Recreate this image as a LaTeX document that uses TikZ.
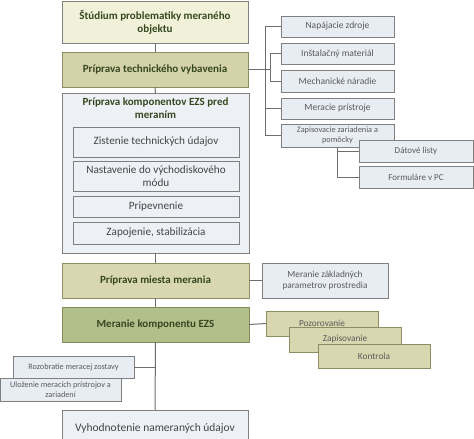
\documentclass[tikz,border=0pt]{standalone}
\usepackage{fontspec}
\setmainfont{Carlito}
\definecolor{cream}{HTML}{F1F1DA}
\definecolor{khaki}{HTML}{D4D2A8}
\definecolor{khakib}{HTML}{D8D7B0}
\definecolor{olive}{HTML}{B3BF8B}
\definecolor{lblue}{HTML}{EDF1F6}
\definecolor{rblue}{HTML}{E8EDF3}
\definecolor{bgray}{HTML}{808080}
\definecolor{bolive}{HTML}{8E8C62}
\definecolor{bgreen}{HTML}{7F8C5A}
\definecolor{tgreen}{HTML}{34471F}
\definecolor{tgray}{HTML}{454545}
\definecolor{tlight}{HTML}{5A5A5A}
\definecolor{lnk}{HTML}{6E6E6E}
\tikzset{
  base/.style={draw, line width=0.9pt, inner sep=1pt, align=center, outer sep=0pt},
  mainbox/.style={base, draw=bgray, font=\fontsize{11}{13}\selectfont\bfseries, text=tgreen},
  bluebox/.style={base, draw=bgray, fill=lblue, text=tgray, font=\fontsize{11.2}{13}\selectfont},
  sidebox/.style={base, draw=bgray, fill=rblue, text=tlight, font=\fontsize{9.5}{11}\selectfont},
  leftbox/.style={base, draw=bgray, fill=rblue, text=tlight, font=\fontsize{8.2}{9.5}\selectfont},
  khbox/.style={base, draw=bolive, fill=khakib, text=tlight, font=\fontsize{9.3}{11}\selectfont},
  link/.style={draw=lnk, line width=1pt}
}
\begin{document}
\begin{tikzpicture}[x=1pt,y=-1pt]
\useasboundingbox (0,0) rectangle (474,439);
\clip (0,0) rectangle (474,439);
\fill[white] (0,0) rectangle (474,439);
% main column
\node[mainbox, fill=cream, minimum width=186, minimum height=42] (b1) at (155,22) {Štúdium problematiky meraného\\objektu};
\node[mainbox, fill=khaki, draw=bolive, minimum width=186, minimum height=35] (b2) at (155,69.5) {Príprava technického vybavenia};
\node[bluebox, minimum width=187, minimum height=160] (b3) at (155.5,173) {};
\node[mainbox, draw=none, fill=none] (b3t) at (155.5,108.5) {Príprava komponentov EZS pred\\meraním};
\node[bluebox, minimum width=166, minimum height=30] (i1) at (156,142) {Zistenie technických údajov};
\node[bluebox, minimum width=166, minimum height=30, font=\fontsize{11.2}{12.5}\selectfont] (i2) at (156,176) {Nastavenie do východiskového\\módu};
\node[bluebox, minimum width=166, minimum height=21] (i3) at (156,206.5) {Pripevnenie};
\node[bluebox, minimum width=166, minimum height=22] (i4) at (156,233) {Zapojenie, stabilizácia};
\node[mainbox, fill=khakib, draw=bolive, minimum width=187, minimum height=35] (b4) at (155.5,280.5) {Príprava miesta merania};
\node[mainbox, fill=olive, draw=bgreen, minimum width=187, minimum height=35] (b5) at (155.5,324.5) {Meranie komponentu EZS};
\node[bluebox, minimum width=186, minimum height=36, font=\fontsize{11.5}{13}\selectfont, anchor=north] (b6) at (155,410) {Vyhodnotenie nameraných údajov};
% spine
\draw[link] (b1.south) -- (b2.north);
\draw[link] (b2.south) -- (b3.north);
\draw[link] (b3.south) -- (b4.north);
\draw[link] (b4.south) -- (b5.north);
\draw[link] (b5.south) -- (b6.north);
% right column
\node[sidebox, minimum width=113, minimum height=21] (r1) at (337.5,26.5) {Napájacie zdroje};
\node[sidebox, minimum width=113, minimum height=21] (r2) at (337.5,53.5) {Inštalačný materiál};
\node[sidebox, minimum width=113, minimum height=22] (r3) at (337.5,81) {Mechanické náradie};
\node[sidebox, minimum width=113, minimum height=21] (r4) at (337.5,108.5) {Meracie prístroje};
\node[sidebox, minimum width=113, minimum height=23, font=\fontsize{8.3}{9.5}\selectfont] (r5) at (337.5,135.5) {Zapisovacie zariadenia a\\pomôcky};
\node[sidebox, minimum width=114, minimum height=22, font=\fontsize{9}{11}\selectfont] (d1) at (416,151) {Dátové listy};
\node[sidebox, minimum width=114, minimum height=22, font=\fontsize{9}{11}\selectfont] (d2) at (416,177) {Formuláre v PC};
\coordinate (k1) at (265,0);
\coordinate (k2) at (270,0);
\draw[link] (r1.west) -- (r1.west -| k1) -- (r5.west -| k1) -- (r5.west);
\draw[link] (r4.west -| k1) -- (r4.west);
\draw[link] (r2.west) -- (r2.west -| k2) -- (r3.west -| k2) -- (r3.west);
\draw[link] (b2.east) -- (b2.east -| k2);
\draw[link] (r5.south) |- (d2.west);
\draw[link] (r5.south |- d1.west) -- (d1.west);
% environment
\node[sidebox, minimum width=126, minimum height=35, font=\fontsize{9.3}{11}\selectfont] (m1) at (325,280.5) {Meranie základných\\parametrov prostredia};
\draw[link] (b4.east) -- (m1.west);
% measuring activities
\node[khbox, minimum width=112, minimum height=25] (p1) at (322,323.5) {Pozorovanie};
\node[khbox, minimum width=112, minimum height=25] (p2) at (345,339.5) {Zapisovanie};
\node[khbox, minimum width=112, minimum height=24] (p3) at (374,356) {Kontrola};
\draw[link] (b5.east) -- (p1.west);
% left
\node[leftbox, minimum width=121, minimum height=22] (l1) at (73.5,367) {Rozobratie meracej zostavy};
\node[leftbox, minimum width=121, minimum height=23] (l2) at (60.5,389.5) {Uloženie meracích prístrojov a\\zariadení};
\draw[link] (b5.south |- l1.east) -- (l1.east);
\end{tikzpicture}
\end{document}
